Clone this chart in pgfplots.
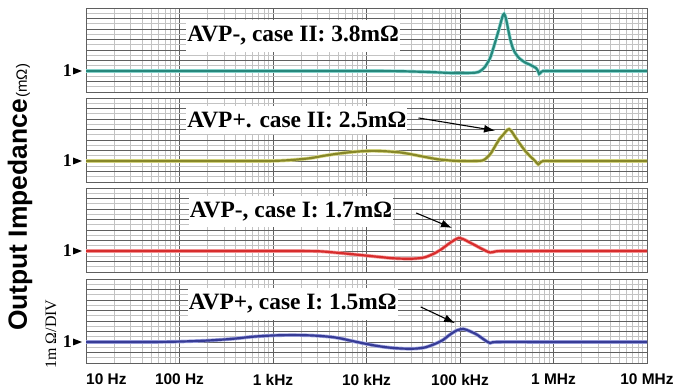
\documentclass[border=0pt]{standalone}
\usepackage{pgfplots}
\pgfplotsset{compat=1.18}
\usepackage{fontspec}
\setmainfont{Liberation Serif}
\setsansfont{Liberation Sans}
\usetikzlibrary{arrows.meta}
\definecolor{cteal}{RGB}{38,136,124}
\definecolor{cteallt}{RGB}{150,220,214}
\definecolor{colive}{RGB}{135,135,40}
\definecolor{colivelt}{RGB}{220,220,140}
\definecolor{cred}{RGB}{215,45,45}
\definecolor{credlt}{RGB}{245,160,160}
\definecolor{cblue}{RGB}{55,60,150}
\definecolor{cbluelt}{RGB}{160,165,225}
\definecolor{gmaj}{RGB}{95,95,95}
\definecolor{gmin}{RGB}{195,195,195}
\pgfplotsset{every axis/.append style={
  xmin=10, xmax=10000000, ymin=0, ymax=4,
  scale only axis, width=561bp, height=84bp, anchor=south west,
  xtick={10,100,1000,10000,100000,1000000,10000000}, xticklabels={},
  minor xtick={20,30,40,50,60,70,80,90,200,300,400,500,600,700,800,900,2000,3000,4000,5000,6000,7000,8000,9000,20000,30000,40000,50000,60000,70000,80000,90000,200000,300000,400000,500000,600000,700000,800000,900000,2000000,3000000,4000000,5000000,6000000,7000000,8000000,9000000},
  ytick={0,0.5,...,4}, yticklabels={}, minor y tick num=1,
  grid=both,
  major grid style={draw=gmaj, line width=0.7pt},
  minor grid style={draw=gmin, line width=0.6pt},
  major tick length=0pt, minor tick length=0pt,
  axis line style={draw=gmaj, line width=0.9pt},
  clip=false,
}}
\tikzset{
annot/.style={fill=white, anchor=west, inner xsep=1bp, inner ysep=6bp, font=\bfseries\fontsize{23.5}{23.5}\selectfont},
arr/.style={-{Latex[length=11bp,width=8bp]}, line width=1.1pt, black},
onelab/.style={anchor=east, inner sep=0pt, font=\bfseries\fontsize{18}{18}\selectfont},
xlab/.style={inner sep=0pt, font=\sffamily\bfseries\fontsize{15.5}{15.5}\selectfont}
}
\begin{document}
\begin{tikzpicture}
\path[use as bounding box] (0bp,0bp) rectangle (676bp,391bp);
% ---- panel 1
\begin{semilogxaxis}[at={(86bp,299bp)}]
\addplot[smooth, tension=0.5, line width=2.2pt, cteal, preaction={draw=cteallt, line width=3.6pt}] coordinates {
(10,1.0) (1000,1.0) (10000,1.0) (22700,0.99) (47600,0.95) (75000,0.91) (100000,0.9)
(145000,0.92) (165000,1.0) (185000,1.2) (209000,1.6) (226000,2.05) (250000,2.7)
(269000,3.2) (285000,3.6) (296000,3.72) (310000,3.5) (327000,3.0) (345000,2.5)
(370000,2.05) (400000,1.78) (440000,1.57) (500000,1.4) (560000,1.3) (606000,1.22)
(650000,1.14) (680000,1.02) (703000,0.86) (740000,0.96) (776000,1.0) (1000000,1.0)
(10000000,1.0)};
\node[annot] at (axis cs:118,2.67) {AVP-, case II: 3.8mΩ};
\fill[black] ([xshift=-4bp]axis cs:10,1) -- ++(-9bp,3.5bp) -- ++(0bp,-7bp) -- cycle;
\node[onelab] at ([xshift=-14bp]axis cs:10,1) {1};
\end{semilogxaxis}
% ---- panel 2
\begin{semilogxaxis}[at={(86bp,209bp)}]
\node[annot] at (axis cs:118,2.95) {AVP+. case II: 2.5mΩ};
\draw[arr] (axis cs:36000,3.05) -- (axis cs:237000,2.45);
\fill[black] ([xshift=-4bp]axis cs:10,1) -- ++(-9bp,3.5bp) -- ++(0bp,-7bp) -- cycle;
\node[onelab] at ([xshift=-14bp]axis cs:10,1) {1};
\addplot[smooth, tension=0.5, line width=2.2pt, colive, preaction={draw=colivelt, line width=3.6pt}] coordinates {
(10,1.0) (500,1.0) (916,1.0) (1500,1.04) (2460,1.13) (3500,1.25) (5160,1.36)
(7500,1.44) (10800,1.48) (15000,1.47) (22700,1.41) (30000,1.32) (37200,1.24)
(50000,1.13) (61000,1.07) (80000,1.02) (100000,1.0) (150000,1.0) (176000,1.03)
(195000,1.17) (215000,1.38) (237000,1.7) (265000,2.05) (296000,2.3) (320000,2.48)
(335000,2.52) (355000,2.42) (389000,2.15) (440000,1.8) (498000,1.48) (570000,1.2)
(637000,1.0) (686000,0.84) (730000,0.95) (776000,1.0) (1000000,1.0) (2000000,1.0)
(5000000,1.0) (10000000,1.0)};
\addplot[line width=2.4pt, draw=colive] coordinates {
(776000,1.0) (1000000,1.0) (2000000,1.0) (5000000,1.0) (10000000,1.0)};
\end{semilogxaxis}
% ---- panel 3
\begin{semilogxaxis}[at={(86bp,119bp)}]
\addplot[smooth, tension=0.5, line width=2.2pt, cred, preaction={draw=credlt, line width=3.6pt}] coordinates {
(10,1.0) (1000,1.0) (2900,0.99) (4500,0.93) (6600,0.86) (11000,0.76) (15000,0.7)
(20000,0.65) (30000,0.63) (42000,0.7) (55000,0.92) (65000,1.12) (75000,1.33)
(87000,1.52) (97000,1.62) (110000,1.55) (128000,1.4) (150000,1.24) (175000,1.08)
(210000,0.93) (240000,0.98) (300000,1.0) (1000000,1.0) (10000000,1.0)};
\node[annot] at (axis cs:125,2.9) {AVP-, case I: 1.7mΩ};
\draw[arr] (axis cs:34000,2.81) -- (axis cs:82000,2.1);
\fill[black] ([xshift=-4bp]axis cs:10,1) -- ++(-9bp,3.5bp) -- ++(0bp,-7bp) -- cycle;
\node[onelab] at ([xshift=-14bp]axis cs:10,1) {1};
\end{semilogxaxis}
% ---- panel 4
\begin{semilogxaxis}[at={(86bp,28bp)}]
\addplot[smooth, tension=0.5, line width=2.2pt, cblue, preaction={draw=cbluelt, line width=3.6pt}] coordinates {
(10,1.0) (50,1.0) (100,1.02) (200,1.07) (368,1.15) (600,1.25) (990,1.31) (1600,1.33)
(2640,1.31) (4000,1.25) (5160,1.18) (7000,1.05) (11000,0.87) (15000,0.77) (20000,0.71)
(27000,0.68) (34600,0.69) (43000,0.75) (51300,0.87) (60000,1.0) (66000,1.1) (78000,1.35)
(92000,1.55) (108000,1.62) (125000,1.53) (152000,1.35) (180000,1.12) (210000,0.95)
(250000,1.0) (1000000,1.0) (10000000,1.0)};
\node[annot] at (axis cs:122,2.81) {AVP+, case I: 1.5mΩ};
\draw[arr] (axis cs:38000,2.67) -- (axis cs:88500,1.9);
\fill[black] ([xshift=-4bp]axis cs:10,1) -- ++(-9bp,3.5bp) -- ++(0bp,-7bp) -- cycle;
\node[onelab] at ([xshift=-14bp]axis cs:10,1) {1};
\node[xlab, anchor=north west] at ([yshift=-11bp]axis cs:10,0) {10 Hz};
\node[xlab, anchor=north] at ([yshift=-11bp]axis cs:100,0) {100 Hz};
\node[xlab, anchor=north] at ([yshift=-11bp]axis cs:1000,0) {1 kHz};
\node[xlab, anchor=north] at ([yshift=-11bp]axis cs:10000,0) {10 kHz};
\node[xlab, anchor=north] at ([yshift=-11bp]axis cs:100000,0) {100 kHz};
\node[xlab, anchor=north] at ([yshift=-11bp]axis cs:1000000,0) {1 MHz};
\node[xlab, anchor=north] at ([yshift=-11bp]axis cs:10000000,0) {10 MHz};
\end{semilogxaxis}
\node[rotate=90, inner sep=0pt] at (20bp,193.5bp) {{\sffamily\bfseries\fontsize{26.5}{27}\selectfont Output Impedance}\,{\sffamily\fontsize{15}{16}\selectfont (mΩ)}};
\node[rotate=90, inner sep=0pt] at (51bp,57bp) {\fontsize{16}{16}\selectfont 1m Ω/DIV};
\end{tikzpicture}
\end{document}
